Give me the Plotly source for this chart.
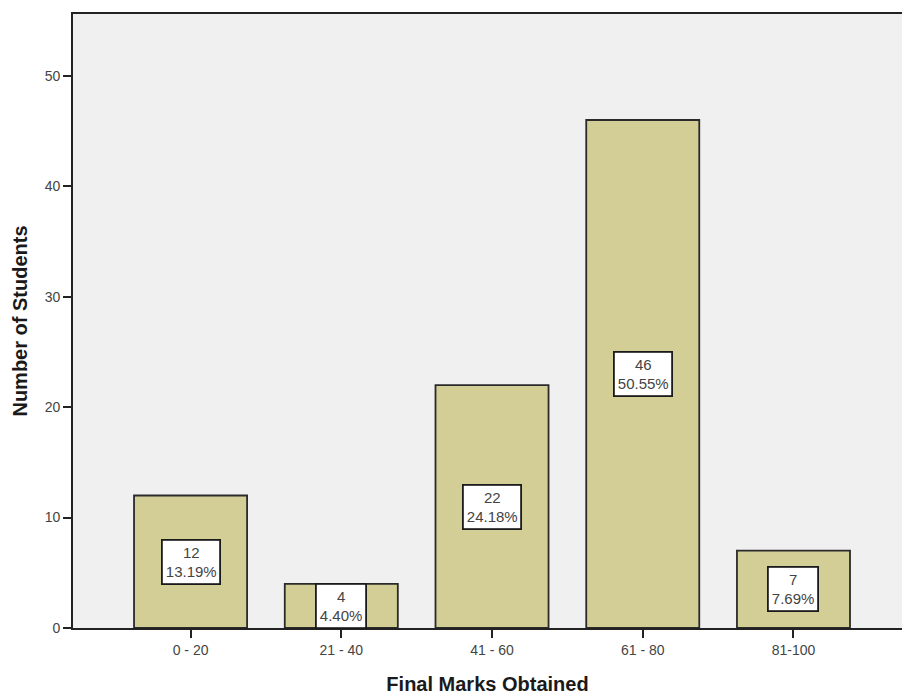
import plotly.graph_objects as go

categories = ["0 - 20", "21 - 40", "41 - 60", "61 - 80", "81-100"]
counts = [12, 4, 22, 46, 7]
percent_labels = ["13.19%", "4.40%", "24.18%", "50.55%", "7.69%"]
y_ticks = [0, 10, 20, 30, 40, 50]

FONT = "Liberation Sans, Arial, Helvetica"

fig = go.Figure()
fig.add_trace(go.Bar(
    x=categories, y=counts,
    marker=dict(color="#D2CE96", line=dict(color="#2a2a2a", width=1.8)),
    width=0.75,
    hoverinfo="skip",
))

for c, v, p in zip(categories, counts, percent_labels):
    fig.add_annotation(
        x=c, y=v / 2, text=f"{v}<br>{p}", showarrow=False,
        bgcolor="white", bordercolor="#1a1a1a", borderwidth=1.8, borderpad=3,
        font=dict(family=FONT, size=15, color="#444444"),
        align="center",
    )

fig.update_layout(
    width=902, height=695,
    margin=dict(l=73, r=0, t=14, b=67),
    paper_bgcolor="white", plot_bgcolor="#F0F0F0",
    showlegend=False,
    font=dict(family=FONT, size=14, color="#444444"),
    bargap=0.25,
)
fig.update_xaxes(
    range=[-0.78, 4.72], showline=True, linecolor="#222222", linewidth=1.8,
    mirror=True, ticks="outside", ticklen=8, tickcolor="#222222", tickwidth=1.8,
    showgrid=False, zeroline=False,
    title=dict(text="Final Marks Obtained", font=dict(family=FONT, size=20, color="#1a1a1a", weight="bold"), standoff=20),
    tickfont=dict(size=14, color="#444444"),
)
fig.update_yaxes(
    range=[0, 55.6], tickvals=y_ticks, showline=True, linecolor="#222222", linewidth=1.8,
    ticks="outside", ticklen=8, tickcolor="#222222", tickwidth=1.8,
    showgrid=False, zeroline=False,
    title=dict(text="Number of Students", font=dict(family=FONT, size=20, color="#1a1a1a", weight="bold"), standoff=12),
    tickfont=dict(size=14, color="#444444"),
)

fig.write_html(
    "out.html",
    config={"displayModeBar": False},
    post_script="document.body.style.margin='0';document.body.style.overflow='hidden';",
)
